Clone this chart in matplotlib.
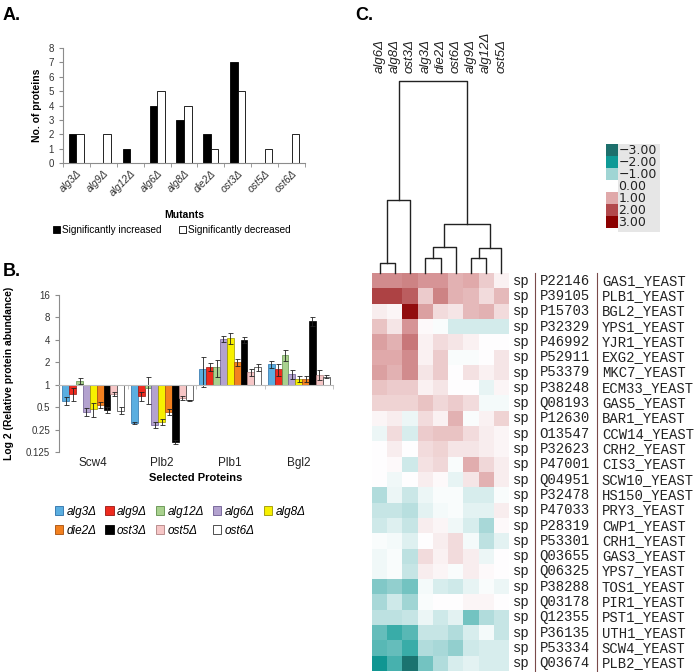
import numpy as np
import matplotlib
matplotlib.use('Agg')
import matplotlib.pyplot as plt
from matplotlib.colors import LinearSegmentedColormap
from matplotlib.patches import Patch
from matplotlib.transforms import blended_transform_factory

plt.rcParams['font.family'] = ['Liberation Sans', 'DejaVu Sans']

# ---- panel A: number of significantly changed proteins
mutants = ['alg3Δ', 'alg9Δ', 'alg12Δ', 'alg6Δ', 'alg8Δ', 'die2Δ', 'ost3Δ', 'ost5Δ', 'ost6Δ']
n_increased = [2, 0, 1, 4, 3, 2, 7, 0, 0]
n_decreased = [2, 2, 0, 5, 4, 1, 5, 1, 2]

# ---- panel B: relative abundance of selected proteins (one value per mutant)
proteins = ['Scw4', 'Plb2', 'Plb1', 'Bgl2']
scw4 = [0.61, 0.75, 1.13, 0.43, 0.47, 0.53, 0.46, 0.75, 0.45]
plb2 = [0.31, 0.71, 0.90, 0.29, 0.32, 0.43, 0.17, 0.67, 0.62]
plb1 = [1.62, 1.75, 1.71, 4.10, 4.25, 2.00, 4.00, 1.47, 1.71]
bgl2 = [1.90, 1.62, 2.50, 1.39, 1.19, 1.19, 7.20, 1.36, 1.28]
scw4_err = [0.08, 0.15, 0.10, 0.05, 0.10, 0.05, 0.04, 0.05, 0.05]
plb2_err = [0.01, 0.10, 0.35, 0.03, 0.03, 0.04, 0.01, 0.04, 0.01]
plb1_err = [0.70, 0.20, 0.45, 0.40, 0.70, 0.20, 0.40, 0.15, 0.20]
bgl2_err = [0.20, 0.30, 0.40, 0.20, 0.10, 0.10, 1.00, 0.20, 0.05]
b_ticks = [0.125, 0.25, 0.5, 1, 2, 4, 8, 16]
b_ticklabels = ['0.125', '0.25', '0.5', '1', '2', '4', '8', '16']
bar_colors = ['#5aaee0', '#ee2a1e', '#a9d18e', '#b3a2cf', '#f7f000',
              '#f2801f', '#000000', '#f6c6c6', '#ffffff']
bar_edges = ['#2a6fa8', '#9b1510', '#5f8f4a', '#6c5a91', '#9a9400',
             '#a54e0b', '#000000', '#b08080', '#333333']

# ---- panel C: clustered heatmap
heat_cols = ['alg6Δ', 'alg8Δ', 'ost3Δ', 'alg3Δ', 'die2Δ', 'ost6Δ', 'alg9Δ', 'alg12Δ', 'ost5Δ']
row_ids = ['P22146', 'P39105', 'P15703', 'P32329', 'P46992', 'P52911', 'P53379',
           'P38248', 'Q08193', 'P12630', 'O13547', 'P32623', 'P47001', 'Q04951',
           'P32478', 'P47033', 'P28319', 'P53301', 'Q03655', 'Q06325', 'P38288',
           'Q03178', 'Q12355', 'P36135', 'P53334', 'Q03674']
row_names = ['GAS1_YEAST', 'PLB1_YEAST', 'BGL2_YEAST', 'YPS1_YEAST', 'YJR1_YEAST',
             'EXG2_YEAST', 'MKC7_YEAST', 'ECM33_YEAST', 'GAS5_YEAST', 'BAR1_YEAST',
             'CCW14_YEAST', 'CRH2_YEAST', 'CIS3_YEAST', 'SCW10_YEAST', 'HS150_YEAST',
             'PRY3_YEAST', 'CWP1_YEAST', 'CRH1_YEAST', 'GAS3_YEAST', 'YPS7_YEAST',
             'TOS1_YEAST', 'PIR1_YEAST', 'PST1_YEAST', 'UTH1_YEAST', 'SCW4_YEAST',
             'PLB2_YEAST']
heat_values = [
    [1.3, 1.3, 1.4, 1.2, 1.2, 0.9, 1.0, 0.6, 0.15],
    [2.1, 2.1, 1.8, 0.6, 1.4, 0.9, 0.8, 0.4, 0.8],
    [0.2, 0.1, 2.8, 1.1, 0.4, 0.3, 0.8, 0.9, 0.4],
    [0.7, 0.3, 1.2, 0.05, -0.05, -0.45, -0.45, -0.45, -0.45],
    [1.1, 0.9, 1.5, 0.15, 0.4, 0.3, 0.15, 0.0, 0.0],
    [1.0, 1.0, 1.3, 0.15, 0.6, -0.05, -0.05, 0.0, 0.3],
    [1.1, 0.9, 1.3, 0.3, 0.6, 0.0, 0.35, 0.15, 0.3],
    [0.7, 0.6, 0.6, 0.15, 0.3, 0.0, 0.0, -0.25, 0.1],
    [0.5, 0.5, 0.5, 0.7, 0.45, 0.6, 0.4, -0.1, -0.1],
    [0.1, 0.2, -0.2, 0.4, 0.15, 0.9, -0.05, 0.15, 0.5],
    [-0.2, 0.4, -0.4, 0.6, 0.7, 0.7, 0.4, 0.2, 0.1],
    [0.0, 0.2, 0.0, 0.4, 0.5, 0.3, 0.3, 0.2, 0.1],
    [0.0, 0.05, -0.5, 0.35, 0.45, -0.05, 0.95, 0.45, 0.2],
    [0.0, -0.15, 0.0, 0.2, 0.05, -0.25, 0.3, 0.9, 0.2],
    [-0.8, -0.2, -0.55, -0.2, -0.05, -0.05, -0.4, -0.4, -0.05],
    [-0.6, -0.6, -0.75, -0.3, -0.1, -0.05, -0.3, -0.3, 0.2],
    [-0.5, -0.35, -0.6, 0.2, 0.1, -0.15, -0.4, -0.9, 0.05],
    [-0.05, -0.1, -0.35, 0.0, 0.2, 0.4, -0.1, -0.7, -0.3],
    [-0.15, -0.05, -0.7, 0.4, 0.15, 0.4, 0.2, -0.2, 0.0],
    [-0.15, -0.05, -0.6, 0.2, 0.1, -0.05, 0.2, 0.05, 0.0],
    [-1.2, -1.1, -1.3, -0.1, -0.4, -0.5, -0.25, -0.05, -0.2],
    [-0.9, -0.5, -1.0, -0.05, 0.0, 0.0, 0.1, 0.1, 0.0],
    [-0.7, -0.7, -0.6, -0.2, -0.5, -0.3, -1.3, -0.8, -0.6],
    [-1.4, -1.7, -1.5, -0.6, -0.6, -0.8, -0.4, -0.1, -0.6],
    [-1.5, -1.4, -1.7, -0.8, -0.9, -1.1, -0.5, -0.4, -0.4],
    [-2.1, -1.6, -2.9, -1.3, -0.8, -0.4, -0.3, -0.4, -0.4],
]
# dendrogram merges (scipy style: indices >= 9 are earlier clusters), height
merges = [(0, 1, 0.05), (3, 4, 0.08), (6, 7, 0.08), (10, 5, 0.135),
          (11, 8, 0.13), (12, 13, 0.255), (9, 2, 0.38), (15, 14, 1.0)]
legend_levels = [-3, -2, -1, 0, 1, 2, 3]

cmap = LinearSegmentedColormap.from_list('tealred', [
    (0.0, '#1d6f6c'), (1 / 6, '#0f9b97'), (2 / 6, '#a0d5d4'), (0.5, '#ffffff'),
    (4 / 6, '#e0a9aa'), (5 / 6, '#b24a4d'), (1.0, '#8b0000')])

W, H = 700, 672
fig = plt.figure(figsize=(W / 100, H / 100), dpi=100)


def box(x0, y0, x1, y1):
    return [x0 / W, 1 - y1 / H, (x1 - x0) / W, (y1 - y0) / H]


def fpos(x, y):
    return x / W, 1 - y / H


axis_gray = '#8c8c8c'

# ================= A =================
fig.text(*fpos(3, 16), 'A.', fontsize=13, fontweight='bold', va='center')
axA = fig.add_axes(box(63, 48, 305, 163))
x = np.arange(len(mutants))
axA.bar(x - 0.14, n_increased, 0.28, color='black', edgecolor='black', lw=0.6)
axA.bar(x + 0.14, n_decreased, 0.28, color='white', edgecolor='black', lw=0.6)
axA.set_xlim(-0.5, 8.5)
axA.set_ylim(0, 8)
for s in ['top', 'right']:
    axA.spines[s].set_visible(False)
for s in ['left', 'bottom']:
    axA.spines[s].set_color(axis_gray)
    axA.spines[s].set_linewidth(0.8)
axA.set_yticks(range(9))
axA.tick_params(axis='y', labelsize=7, length=3, color=axis_gray, labelcolor='#333333')
axA.set_xticks(x)
axA.set_xticklabels(mutants, rotation=45, ha='right', rotation_mode='anchor',
                    style='italic', fontsize=7.5, color='#333333')
axA.tick_params(axis='x', which='major', length=0, pad=4)
axA.set_xticks(np.arange(-0.5, 9, 1), minor=True)
axA.tick_params(axis='x', which='minor', length=3, color=axis_gray)
axA.set_ylabel('No. of proteins', fontweight='bold', fontsize=7.5, labelpad=5)
fig.text(*fpos(184, 215), 'Mutants', fontweight='bold', fontsize=7.5, ha='center', va='center')
fig.legend(handles=[Patch(fc='black', ec='black', lw=0.6), Patch(fc='white', ec='black', lw=0.6)],
           labels=['Significantly increased', 'Significantly decreased'],
           loc='center', bbox_to_anchor=fpos(172, 230), ncol=2, frameon=False,
           fontsize=7.2, handlelength=0.7, handleheight=0.8, handletextpad=0.2,
           columnspacing=1.8)

# ================= B =================
fig.text(*fpos(3, 272), 'B.', fontsize=13, fontweight='bold', va='center')
axB = fig.add_axes(box(59, 295, 333, 452))
axB.set_yscale('log', base=2)
values = np.array([scw4, plb2, plb1, bgl2])
errors = np.array([scw4_err, plb2_err, plb1_err, bgl2_err])
groups = np.arange(len(proteins))
bw = 0.1
for i, m in enumerate(mutants):
    v = values[:, i]
    axB.bar(groups + (i - 4) * bw, v - 1, bw, bottom=1, color=bar_colors[i],
            edgecolor=bar_edges[i], lw=0.5, yerr=errors[:, i], capsize=1.8,
            error_kw=dict(lw=0.6, capthick=0.6, ecolor='#222222'), label=m)
axB.set_ylim(0.125, 16)
axB.set_xlim(-0.5, 3.5)
axB.set_yticks(b_ticks)
axB.set_yticklabels(b_ticklabels)
axB.minorticks_off()
axB.tick_params(axis='y', labelsize=7, length=3, color=axis_gray, labelcolor='#333333')
for s in ['top', 'right']:
    axB.spines[s].set_visible(False)
axB.spines['left'].set_color(axis_gray)
axB.spines['left'].set_linewidth(0.8)
axB.spines['bottom'].set_position(('data', 1))
axB.spines['bottom'].set_color('#bbbbbb')
axB.spines['bottom'].set_linewidth(0.8)
axB.set_xticks([])
axB.set_xticks(np.arange(-0.5, 4, 1), minor=True)
axB.tick_params(axis='x', which='minor', length=3, color='#bbbbbb', labelbottom=False)
tr = blended_transform_factory(axB.transData, axB.transAxes)
for g, p in zip(groups, proteins):
    axB.text(g, -0.07, p, transform=tr, ha='center', va='center', fontsize=8.5, color='#222222')
axB.set_ylabel('Log 2 (Relative protein abundance)', fontweight='bold', fontsize=7.5)
axB.yaxis.set_label_coords(-0.165, 0.5)
fig.text(*fpos(196, 478), 'Selected Proteins', fontweight='bold', fontsize=8, ha='center', va='center')

handles, labels = axB.get_legend_handles_labels()
order = [0, 5, 1, 6, 2, 7, 3, 8, 4]
leg_handles = [Patch(fc=bar_colors[k], ec=bar_edges[k], lw=0.6) for k in order]
fig.legend(leg_handles, [labels[k] for k in order], loc='upper left',
           bbox_to_anchor=fpos(44, 495), ncol=5, frameon=False,
           prop={'style': 'italic', 'size': 8.5}, handlelength=0.7, handleheight=0.8,
           handletextpad=0.3, columnspacing=0.75, labelspacing=0.6)

# ================= C =================
fig.text(*fpos(355, 16), 'C.', fontsize=13, fontweight='bold', va='center')
data = np.array(heat_values)
nrows, ncols = data.shape
axH = fig.add_axes(box(372, 273, 509, 671))
axH.imshow(data, cmap=cmap, vmin=-3, vmax=3, aspect='auto', interpolation='nearest')
axH.set_xlim(-0.5, ncols - 0.5)
axH.set_ylim(nrows - 0.5, -0.5)
axH.axis('off')
for r in range(nrows):
    axH.text(8.78, r, 'sp', fontfamily='Liberation Mono', fontsize=10, va='center', color='#222222')
    axH.text(10.5, r, row_ids[r], fontfamily='Liberation Mono', fontsize=10, va='center', color='#222222')
    axH.text(14.6, r, row_names[r], fontfamily='Liberation Mono', fontsize=10, va='center', color='#222222')
for lx in [10.18, 14.28]:
    axH.plot([lx, lx], [-0.5, nrows - 0.5], color='#7a4a4a', lw=0.8, clip_on=False)

# dendrogram
axD = fig.add_axes(box(372, 81, 509, 273))
axD.set_xlim(-0.5, ncols - 0.5)
axD.set_ylim(0, 1.0)
axD.axis('off')
pos = {i: (float(i), 0.0) for i in range(ncols)}
for k, (a, b, h) in enumerate(merges):
    xa, ha = pos[a]
    xb, hb = pos[b]
    axD.plot([xa, xa, xb, xb], [ha, h, h, hb], color='#222222', lw=1.0, clip_on=False)
    pos[ncols + k] = ((xa + xb) / 2, h)
for i, c in enumerate(heat_cols):
    axD.text(i, 1.04, c, rotation=90, ha='center', va='bottom', style='italic',
             fontsize=9.5, color='#222222')

# colour key
axK = fig.add_axes(box(606, 144, 660, 232))
axK.set_xlim(0, 1)
axK.set_ylim(7.33, 0)
axK.axis('off')
axK.add_patch(plt.Rectangle((0.22, 0), 0.78, 7.33, color='#e6e6e6', lw=0))
for i, lv in enumerate(legend_levels):
    if lv != 0:
        axK.barh(i, 0.22, height=1, left=0, align='edge', color=cmap((lv + 3) / 6), lw=0)
    axK.text(0.23, i + 0.5, f'{lv:.2f}'.replace('-', '\u2212'), fontfamily='DejaVu Sans',
             fontsize=9, va='center', ha='left', color='#222222')

fig.savefig('out.png', dpi=100)
